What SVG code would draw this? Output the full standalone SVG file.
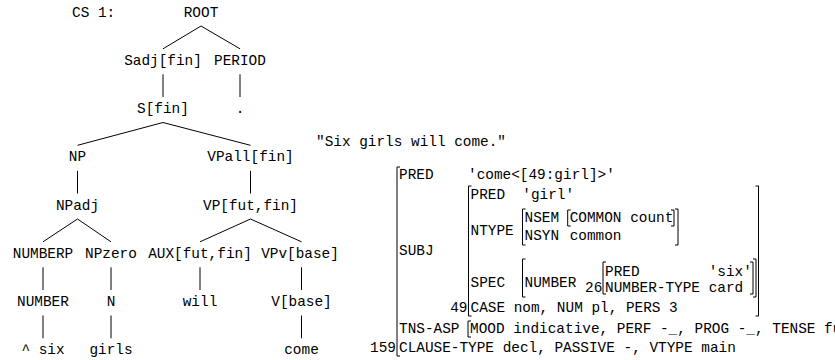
<svg xmlns="http://www.w3.org/2000/svg" width="835" height="360" viewBox="0 0 835 360">
<style>
text{font-family:"Liberation Mono","Courier New",monospace;font-size:14.4px;fill:#000}
.m{text-anchor:middle}
.e{text-anchor:end}
line,path{stroke:#000;stroke-width:1;fill:none}
</style>
<rect width="835" height="360" fill="#fff"/>
<text x="72" y="16.5">CS 1:</text>
<g id="connectors">
<line x1="201" y1="26" x2="163" y2="48.8"/>
<line x1="201" y1="26" x2="240" y2="48.8"/>
<line x1="163" y1="74.3" x2="163" y2="97"/>
<line x1="240" y1="74.3" x2="240" y2="97"/>
<line x1="163" y1="122.5" x2="77.5" y2="145.3"/>
<line x1="163" y1="122.5" x2="250.5" y2="145.3"/>
<line x1="77.5" y1="170.8" x2="77.5" y2="193.5"/>
<line x1="250.5" y1="170.8" x2="250.5" y2="193.5"/>
<line x1="77.5" y1="219" x2="43" y2="241.8"/>
<line x1="77.5" y1="219" x2="111" y2="241.8"/>
<line x1="250.5" y1="219" x2="200" y2="241.8"/>
<line x1="250.5" y1="219" x2="301.5" y2="241.8"/>
<line x1="43" y1="267.3" x2="43" y2="290"/>
<line x1="111" y1="267.3" x2="111" y2="290"/>
<line x1="200" y1="267.3" x2="200" y2="290"/>
<line x1="301.5" y1="267.3" x2="301.5" y2="290"/>
<line x1="43" y1="315.5" x2="43" y2="338.3"/>
<line x1="111" y1="315.5" x2="111" y2="338.3"/>
<line x1="301.5" y1="315.5" x2="301.5" y2="338.3"/>
</g>
<g id="n-root"><text class="m" x="201" y="16.5">ROOT</text></g>
<g id="n-sadj"><text class="m" x="163" y="64.8">Sadj[fin]</text></g>
<g id="n-period"><text class="m" x="240" y="64.8">PERIOD</text></g>
<g id="n-s"><text class="m" x="163" y="113">S[fin]</text></g>
<g id="n-dot"><text class="m" x="240" y="113">.</text></g>
<g id="n-np"><text class="m" x="77.5" y="161.3">NP</text></g>
<g id="n-vpall"><text class="m" x="250.5" y="161.3">VPall[fin]</text></g>
<g id="n-npadj"><text class="m" x="77.5" y="209.5">NPadj</text></g>
<g id="n-vp"><text class="m" x="250.5" y="209.5">VP[fut,fin]</text></g>
<g id="n-numberp"><text class="m" x="43" y="257.8">NUMBERP</text></g>
<g id="n-npzero"><text class="m" x="111" y="257.8">NPzero</text></g>
<g id="n-aux"><text class="m" x="200" y="257.8">AUX[fut,fin]</text></g>
<g id="n-vpv"><text class="m" x="300" y="257.8">VPv[base]</text></g>
<g id="n-number"><text class="m" x="43" y="306">NUMBER</text></g>
<g id="n-n"><text class="m" x="111" y="306">N</text></g>
<g id="n-will"><text class="m" x="200" y="306">will</text></g>
<g id="n-vbase"><text class="m" x="301.5" y="306">V[base]</text></g>
<g id="n-six"><text class="m" x="43" y="354.3">^ six</text></g>
<g id="n-girls"><text class="m" x="111" y="354.3">girls</text></g>
<g id="n-come"><text class="m" x="301.5" y="354.3">come</text></g>

<g id="fstructure">
<text x="316" y="146">"Six girls will come."</text>
<path d="M400 167H397V356H400"/>
<text class="e" x="396" y="352">159</text>
<text x="399" y="179">PRED</text>
<text x="468" y="179">'come&lt;[49:girl]&gt;'</text>
<text x="399" y="255">SUBJ</text>
<path d="M471.5 186H468.5V316H471.5"/>
<path d="M755.5 186H758.5V316H755.5"/>
<text class="e" x="467.5" y="312">49</text>
<text x="470.5" y="199">PRED</text>
<text x="522.3" y="199">'girl'</text>
<text x="470.5" y="235">NTYPE</text>
<path d="M525.5 209H522.5V245H525.5"/>
<path d="M675 209H678V245H675"/>
<text x="524.5" y="222">NSEM</text>
<path d="M570.7 210H567.7V226H570.7"/>
<path d="M671 210H674V226H671"/>
<text x="569.7" y="222">COMMON count</text>
<text x="524.5" y="240">NSYN</text>
<text x="569.7" y="240">common</text>
<text x="470.5" y="287">SPEC</text>
<path d="M525.5 259H522.5V297H525.5"/>
<path d="M753 259H756V297H753"/>
<text x="524.5" y="287">NUMBER</text>
<text class="e" x="602.3" y="292">26</text>
<path d="M606 262H603V294H606"/>
<path d="M750 262H753V294H750"/>
<text x="605" y="276">PRED</text>
<text x="708.7" y="276">'six'</text>
<text x="605" y="292">NUMBER-TYPE</text>
<text x="708.7" y="292">card</text>
<text x="470.5" y="312">CASE nom, NUM pl, PERS 3</text>
<text x="399" y="333">TNS-ASP</text>
<path d="M471 321H468V337H471"/>
<text x="470" y="333">MOOD indicative, PERF -_, PROG -_, TENSE fut</text>
<text x="399" y="352">CLAUSE-TYPE decl, PASSIVE -, VTYPE main</text>
</g>
</svg>
